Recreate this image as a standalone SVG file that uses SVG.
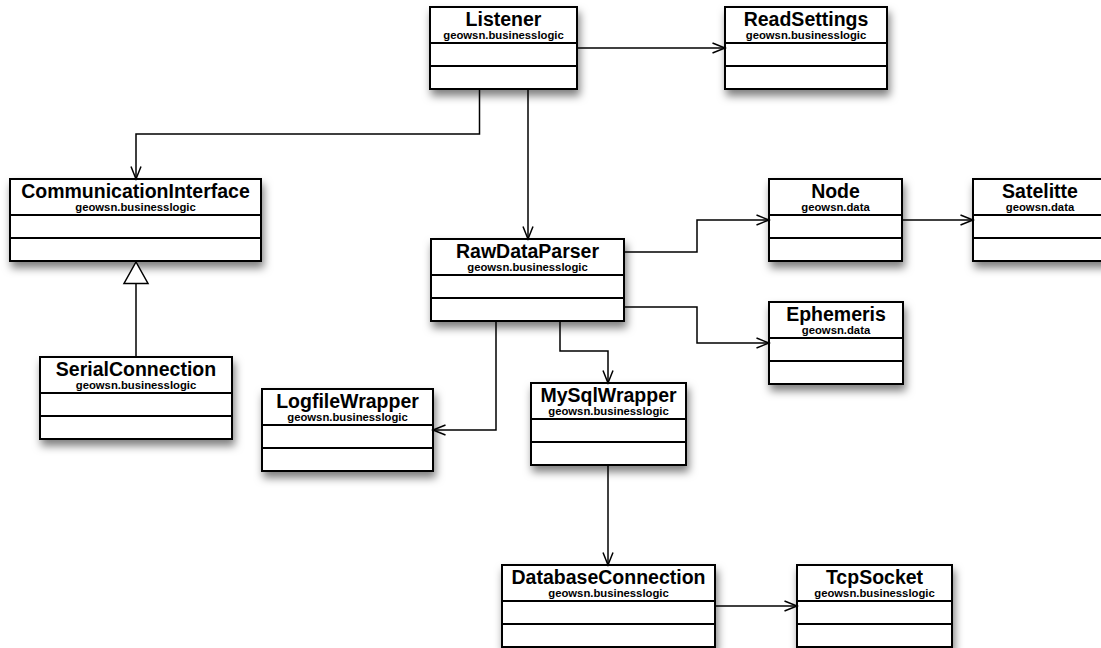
<svg xmlns="http://www.w3.org/2000/svg" width="1101" height="648" viewBox="0 0 1101 648">
  <defs>
    <filter id="shadow" x="-10%" y="-10%" width="130%" height="140%">
      <feDropShadow dx="2" dy="6" stdDeviation="4.5" flood-color="#000" flood-opacity="0.5"/>
    </filter>
    <marker id="open" markerWidth="14" markerHeight="12" refX="12.5" refY="5" orient="auto" markerUnits="userSpaceOnUse" overflow="visible">
      <path d="M0,0 L12.5,5 L0,10" fill="none" stroke="#000" stroke-width="1.5"/>
    </marker>
  </defs>
  <style>
    .box { fill: #fff; stroke: #000; stroke-width: 2; filter: url(#shadow); }
    .div { stroke: #000; stroke-width: 2; }
    .title { font-family: "Liberation Sans", Arial, sans-serif; font-weight: bold; font-size: 19.5px; text-anchor: middle; fill: #000; }
    .pkg { font-family: "Liberation Sans", Arial, sans-serif; font-weight: bold; font-size: 11.3px; text-anchor: middle; fill: #000; }
    .conn { fill: none; stroke: #000; stroke-width: 1.5; }
    .arrow { marker-end: url(#open); }
  </style>
  <rect width="1101" height="648" fill="#fff"/>

  <!-- classes: box, name compartment, attribute and operation compartments -->
  <g id="Listener">
    <rect class="box" x="430" y="7" width="147" height="82"/>
    <line class="div" x1="430" y1="43" x2="577" y2="43"/>
    <line class="div" x1="430" y1="66" x2="577" y2="66"/>
    <text class="title" x="503.5" y="26">Listener</text>
    <text class="pkg" x="503.5" y="39">geowsn.businesslogic</text>
  </g>
  <g id="ReadSettings">
    <rect class="box" x="725" y="7" width="162" height="82"/>
    <line class="div" x1="725" y1="43" x2="887" y2="43"/>
    <line class="div" x1="725" y1="66" x2="887" y2="66"/>
    <text class="title" x="806" y="26">ReadSettings</text>
    <text class="pkg" x="806" y="39">geowsn.businesslogic</text>
  </g>
  <g id="CommunicationInterface">
    <rect class="box" x="10" y="179" width="251" height="82"/>
    <line class="div" x1="10" y1="215" x2="261" y2="215"/>
    <line class="div" x1="10" y1="238" x2="261" y2="238"/>
    <text class="title" x="135.5" y="198">CommunicationInterface</text>
    <text class="pkg" x="135.5" y="211">geowsn.businesslogic</text>
  </g>
  <g id="RawDataParser">
    <rect class="box" x="431" y="239" width="193" height="82"/>
    <line class="div" x1="431" y1="275" x2="624" y2="275"/>
    <line class="div" x1="431" y1="298" x2="624" y2="298"/>
    <text class="title" x="527.5" y="258">RawDataParser</text>
    <text class="pkg" x="527.5" y="271">geowsn.businesslogic</text>
  </g>
  <g id="Node">
    <rect class="box" x="769" y="179" width="133" height="82"/>
    <line class="div" x1="769" y1="215" x2="902" y2="215"/>
    <line class="div" x1="769" y1="238" x2="902" y2="238"/>
    <text class="title" x="835.5" y="198">Node</text>
    <text class="pkg" x="835.5" y="211">geowsn.data</text>
  </g>
  <g id="Satelitte">
    <rect class="box" x="973" y="179" width="134" height="82"/>
    <line class="div" x1="973" y1="215" x2="1107" y2="215"/>
    <line class="div" x1="973" y1="238" x2="1107" y2="238"/>
    <text class="title" x="1040" y="198">Satelitte</text>
    <text class="pkg" x="1040" y="211">geowsn.data</text>
  </g>
  <g id="Ephemeris">
    <rect class="box" x="769" y="302" width="134" height="82"/>
    <line class="div" x1="769" y1="338" x2="903" y2="338"/>
    <line class="div" x1="769" y1="361" x2="903" y2="361"/>
    <text class="title" x="836" y="321">Ephemeris</text>
    <text class="pkg" x="836" y="334">geowsn.data</text>
  </g>
  <g id="SerialConnection">
    <rect class="box" x="40" y="357" width="192" height="82"/>
    <line class="div" x1="40" y1="393" x2="232" y2="393"/>
    <line class="div" x1="40" y1="416" x2="232" y2="416"/>
    <text class="title" x="136" y="376">SerialConnection</text>
    <text class="pkg" x="136" y="389">geowsn.businesslogic</text>
  </g>
  <g id="LogfileWrapper">
    <rect class="box" x="262" y="389" width="171" height="82"/>
    <line class="div" x1="262" y1="425" x2="433" y2="425"/>
    <line class="div" x1="262" y1="448" x2="433" y2="448"/>
    <text class="title" x="347.5" y="408">LogfileWrapper</text>
    <text class="pkg" x="347.5" y="421">geowsn.businesslogic</text>
  </g>
  <g id="MySqlWrapper">
    <rect class="box" x="531" y="383" width="155" height="82"/>
    <line class="div" x1="531" y1="419" x2="686" y2="419"/>
    <line class="div" x1="531" y1="442" x2="686" y2="442"/>
    <text class="title" x="608.5" y="402">MySqlWrapper</text>
    <text class="pkg" x="608.5" y="415">geowsn.businesslogic</text>
  </g>
  <g id="DatabaseConnection">
    <rect class="box" x="502" y="565" width="213" height="82"/>
    <line class="div" x1="502" y1="601" x2="715" y2="601"/>
    <line class="div" x1="502" y1="624" x2="715" y2="624"/>
    <text class="title" x="608.5" y="584">DatabaseConnection</text>
    <text class="pkg" x="608.5" y="597">geowsn.businesslogic</text>
  </g>
  <g id="TcpSocket">
    <rect class="box" x="797" y="565" width="155" height="82"/>
    <line class="div" x1="797" y1="601" x2="952" y2="601"/>
    <line class="div" x1="797" y1="624" x2="952" y2="624"/>
    <text class="title" x="874.5" y="584">TcpSocket</text>
    <text class="pkg" x="874.5" y="597">geowsn.businesslogic</text>
  </g>

  <!-- associations and generalisation -->
  <g id="connectors">
    <path class="conn arrow" d="M577,48 H725"/>
    <path class="conn arrow" d="M479.5,89 V134 H136 V179"/>
    <path class="conn arrow" d="M528,89 V239"/>
    <path class="conn arrow" d="M624,252 H697 V220 H769"/>
    <path class="conn arrow" d="M902,220 H973"/>
    <path class="conn arrow" d="M624,307 H697 V343 H769"/>
    <path class="conn arrow" d="M496,321 V430 H433"/>
    <path class="conn arrow" d="M560,321 V351 H608 V383"/>
    <path class="conn arrow" d="M608,465 V565"/>
    <path class="conn arrow" d="M715,606 H797"/>
    <path class="conn" d="M136,357 V283.5"/>
    <polygon points="124,283.5 148,283.5 136,262" fill="#fff" stroke="#000" stroke-width="1.5"/>
  </g>
</svg>
